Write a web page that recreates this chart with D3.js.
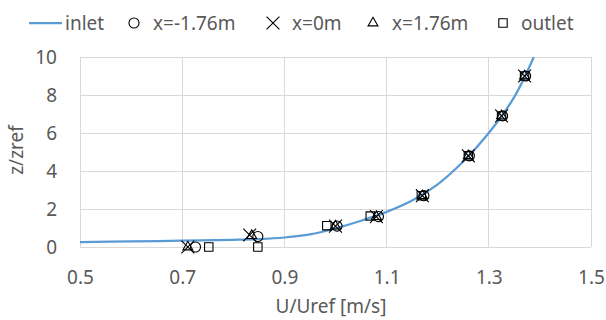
<!DOCTYPE html>
<html><head><meta charset="utf-8">
<script src="https://cdn.jsdelivr.net/npm/d3@7"></script>
<style>body{margin:0;background:#fff}svg{display:block}text{font-family:"Noto Sans","Open Sans",sans-serif;fill:#595959}</style>
</head><body><svg id="c" width="606" height="320"></svg>
<script>
const xTicks = [0.5,0.7,0.9,1.1,1.3,1.5];
const yTicks = [0,2,4,6,8,10];
const inletU = [0.5,0.6,0.7,0.8,0.85,0.9,0.95,1.0,1.05,1.1,1.15,1.2,1.25,1.3,1.35,1.388];
const inletZ = [0.26,0.29,0.33,0.38,0.42,0.5,0.66,0.98,1.38,1.85,2.45,3.3,4.5,6.0,7.9,10];
const circU = [0.726,0.848,1.003,1.084,1.173,1.262,1.327,1.372];
const circZ = [0,0.55,1.1,1.6,2.7,4.8,6.9,9.0];
const crossU = [0.711,0.832,1.0,1.08,1.17,1.26,1.325,1.37];
const crossZ = [0,0.63,1.1,1.6,2.7,4.8,6.9,9.0];
const triU = [0.711,0.836,1.0,1.08,1.17,1.26,1.325,1.37];
const triZ = [0,0.6,1.1,1.6,2.7,4.8,6.9,9.0];
const sqU = [0.752,0.848,0.983,1.068,1.168,1.26,1.325,1.37];
const sqZ = [0,0,1.12,1.63,2.7,4.8,6.9,9.0];
const legendLabels = ["inlet","x=-1.76m","x=0m","x=1.76m","outlet"];

const svg = d3.select("#c");
const x = d3.scaleLinear().domain([0.5,1.5]).range([80,591]);
const y = d3.scaleLinear().domain([0,10]).range([247,57]);
const grid = "#d9d9d9";
const FS = "19px";

// grid
svg.append("g").selectAll("line").data(yTicks).join("line")
  .attr("x1",x(0.5)).attr("x2",x(1.5)).attr("y1",d=>y(d)).attr("y2",d=>y(d))
  .attr("stroke",grid).attr("stroke-width",1).attr("shape-rendering","crispEdges");
svg.append("g").selectAll("line").data(xTicks).join("line")
  .attr("x1",d=>x(d)).attr("x2",d=>x(d)).attr("y1",y(0)).attr("y2",y(10))
  .attr("stroke",grid).attr("stroke-width",1).attr("shape-rendering","crispEdges");

// axes labels
const xa = d3.axisBottom(x).tickValues(xTicks).tickFormat(d3.format(".1f")).tickSize(0).tickPadding(21);
const gx = svg.append("g").attr("transform",`translate(0,${y(0)})`).call(xa);
gx.select(".domain").remove();
gx.selectAll("text").attr("dy",null).attr("dominant-baseline","central").attr("y",30).style("font-size",FS).attr("fill","#595959");
const ya = d3.axisLeft(y).tickValues(yTicks).tickFormat(d3.format("d")).tickSize(0).tickPadding(23);
const gy = svg.append("g").attr("transform",`translate(${x(0.5)},0)`).call(ya);
gy.select(".domain").remove();
gy.selectAll("text").style("font-size",FS).attr("fill","#595959");

svg.append("text").attr("x",331).attr("y",313).attr("text-anchor","middle").style("font-size",FS).text("U/Uref [m/s]");
svg.append("text").attr("transform","translate(23,150) rotate(-90)").attr("text-anchor","middle").style("font-size",FS).text("z/zref");

// inlet line
svg.append("clipPath").attr("id","pc").append("rect").attr("x",x(0.5)).attr("y",y(10)).attr("width",x(1.5)-x(0.5)).attr("height",y(0)-y(10));
const line = d3.line().x(d=>x(d[0])).y(d=>y(d[1])).curve(d3.curveCatmullRom.alpha(0.5));
svg.append("path").datum(d3.zip(inletU,inletZ)).attr("d",line)
  .attr("fill","none").attr("stroke","#5b9bd5").attr("stroke-width",2.25).attr("clip-path","url(#pc)");

// markers
const sym = {
  circle: d3.symbol().type(d3.symbolCircle).size(80),
  cross: d3.symbol().type(d3.symbolX).size(110),
  tri: d3.symbol().type(d3.symbolTriangle2).size(70),
  square: d3.symbol().type(d3.symbolSquare2).size(90)
};
function drawSeries(U,Z,s){
  svg.append("g").selectAll("path").data(d3.zip(U,Z)).join("path")
    .attr("transform",d=>`translate(${x(d[0])},${y(d[1])})`)
    .attr("d",sym[s]()).attr("fill","none").attr("stroke","#000").attr("stroke-width",1.1);
}
drawSeries(circU,circZ,"circle");
drawSeries(crossU,crossZ,"cross");
drawSeries(triU,triZ,"tri");
drawSeries(sqU,sqZ,"square");

// legend
const lg = svg.append("g");
const ly = 23;
lg.append("line").attr("x1",29).attr("x2",62).attr("y1",ly).attr("y2",ly).attr("stroke","#5b9bd5").attr("stroke-width",2.25);
const items = [
  {s:null, tx:65, label:legendLabels[0]},
  {s:"circle", mx:134, tx:153, label:legendLabels[1]},
  {s:"cross", mx:273, tx:292, label:legendLabels[2]},
  {s:"tri", mx:373, tx:392, label:legendLabels[3]},
  {s:"square", mx:503, tx:521, label:legendLabels[4]}
];
items.forEach(it=>{
  if(it.s){
    lg.append("path").attr("transform",`translate(${it.mx},${ly})`).attr("d",sym[it.s]())
      .attr("fill","none").attr("stroke","#000").attr("stroke-width",1.1);
  }
  lg.append("text").attr("x",it.tx).attr("y",ly).attr("dominant-baseline","central").style("font-size",FS).text(it.label);
});
</script></body></html>
